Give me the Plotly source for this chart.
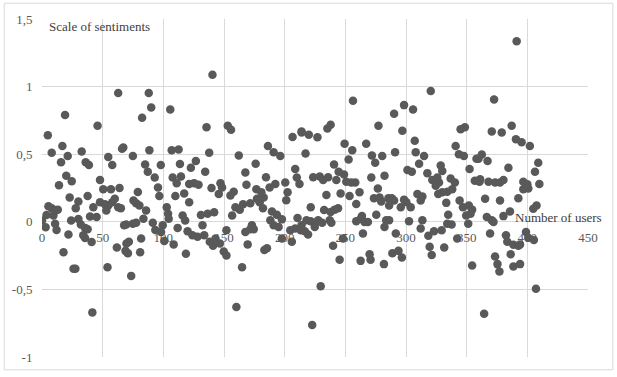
import plotly.graph_objects as go

# (user number, sentiment score), grouped by x range
seg1 = [(62.8,0.953),(19,0.79),(45.8,0.71),(4.8,0.64),(16.8,0.56),(8,0.51),(21.2,0.486),(15.7,0.44),(32.7,0.52),(36,0.44),(38.7,0.42),(54.6,0.48),(57.9,0.42),(66,0.54),(67,0.55),(20,0.34),(24.5,0.30),(14,0.27),(47.8,0.31),(50.5,0.24),(56.8,0.24),(63.9,0.25),(22.8,0.18),(37.6,0.19),(30,0.15),(27.8,0.10),(5.3,0.115),(8,0.10),(11.3,0.084),(13,0.09),(3.7,0.05),(9.4,0.047),(42.3,0.108),(47.8,0.145),(51.9,0.13),(54.6,0.12),(57.9,0.145),(60,0.17),(62.8,0.108),(65,0.10),(53,0.084),(39.6,0.04),(45,0.035),(0,0.01),(3,-0.04),(10.8,-0.014),(12,-0.06),(24,0.01),(30,0.02),(32,-0.02),(35.5,-0.045),(37.6,-0.055),(21.8,-0.094),(34,-0.1),(35.5,-0.12),(40.9,-0.15),(17.7,-0.225),(61.7,-0.19),(67.7,-0.026),(69.6,-0.16),(68.8,-0.215),(26,-0.347),(27.5,-0.347),(54,-0.337),(41.5,-0.67)]
seg2 = [(88,0.953),(90,0.846),(82.5,0.77),(105.7,0.83),(140.5,1.087),(135.6,0.70),(74.9,0.486),(88.5,0.53),(106.9,0.53),(112.6,0.534),(137.8,0.51),(85,0.424),(87.2,0.37),(97.9,0.42),(113.7,0.427),(126.8,0.45),(122.7,0.40),(134.5,0.37),(92.9,0.327),(107.7,0.327),(114.5,0.335),(111,0.286),(121.3,0.28),(125.4,0.286),(129,0.274),(139.7,0.25),(95.6,0.254),(96.7,0.19),(79,0.22),(109.9,0.19),(117.2,0.21),(121.3,0.145),(75.4,0.157),(77.6,0.137),(80.3,0.12),(85.8,0.084),(102.8,0.108),(103.9,0.06),(104.4,0.023),(115.9,0.047),(118,0.01),(131,0.05),(136.5,0.06),(141.9,0.07),(69.4,-0.02),(74.9,-0.014),(77.6,-0.007),(83.6,0.023),(91.3,-0.007),(93.4,-0.06),(99.5,-0.026),(98.1,-0.075),(111.8,-0.045),(120,-0.07),(124,-0.1),(128.2,-0.11),(132.3,-0.026),(133.7,-0.10),(138.3,-0.148),(141,-0.177),(100.8,-0.142),(108.5,-0.167),(81.7,-0.123),(71.6,-0.148),(70.8,-0.233),(80.9,-0.225),(118.6,-0.237),(73.5,-0.40)]
seg3 = [(153.1,0.71),(155.8,0.68),(186.2,0.56),(190.9,0.515),(196.4,0.486),(206.5,0.627),(214,0.66),(162.2,0.49),(176.1,0.43),(167.6,0.364),(184.6,0.33),(208.7,0.39),(210,0.327),(212.2,0.28),(168.5,0.274),(147.1,0.286),(148.4,0.254),(145.7,0.205),(176.7,0.24),(180.8,0.218),(182.7,0.18),(187.6,0.254),(192.3,0.28),(200.5,0.29),(202.4,0.218),(201.3,0.16),(155.3,0.194),(158,0.223),(177.2,0.17),(179.4,0.145),(159.4,0.108),(163,0.09),(156.7,0.047),(165.7,0.13),(171.7,0.137),(182.1,0.1),(189.5,0.077),(193.6,0.052),(197.7,0.018),(188.2,0.011),(190.9,-0.026),(195,-0.038),(210.6,0.028),(204.6,-0.062),(208.7,-0.05),(213.3,-0.062),(205.9,-0.148),(197.7,-0.123),(173,-0.026),(171.7,-0.055),(167.6,-0.075),(174.5,-0.055),(152,-0.062),(143,-0.123),(146.6,-0.16),(149.8,-0.22),(152,-0.25),(169.5,-0.167),(183.3,-0.208),(185.4,-0.196),(164.9,-0.337),(160.2,-0.63)]
seg4 = [(256.3,0.895),(277.3,0.71),(213.9,0.668),(219.9,0.644),(227,0.625),(235.2,0.69),(237.9,0.717),(249.4,0.578),(255.7,0.53),(267.2,0.578),(217.2,0.505),(252.7,0.46),(271.9,0.49),(274.6,0.437),(280.4,0.486),(240.7,0.424),(244.5,0.37),(248.9,0.35),(223.5,0.33),(228.9,0.335),(231.7,0.31),(235.8,0.33),(242.6,0.31),(250.8,0.296),(254.9,0.29),(258.2,0.29),(271.4,0.327),(282.3,0.34),(276.8,0.247),(234.4,0.198),(246.1,0.21),(253.5,0.19),(261.7,0.218),(273.6,0.174),(278.2,0.18),(279.6,0.15),(285.5,0.174),(259,0.132),(221.5,0.108),(232.5,0.088),(237.9,0.072),(241.2,0.09),(244,0.1),(275.5,0.052),(263.7,0.042),(213.9,-0.026),(218,0.011),(221.5,0.004),(224.8,-0.014),(227.6,0.011),(230.9,-0.007),(237.1,0.011),(238.5,-0.007),(216.6,-0.07),(219.3,-0.094),(224.8,-0.038),(259,0.004),(262.6,0.023),(265.8,-0.001),(268.6,-0.001),(283.7,0.011),(282.3,-0.038),(264.5,-0.087),(248.1,-0.123),(239.9,-0.177),(245.3,-0.28),(262.6,-0.289),(270,-0.24),(270.8,-0.28),(281.8,-0.313),(229.7,-0.476),(222.7,-0.763)]
seg5 = [(320.4,0.968),(298.4,0.863),(305.8,0.83),(290.2,0.80),(297,0.673),(345,0.685),(348.5,0.70),(307.2,0.60),(291,0.515),(308,0.515),(340.9,0.56),(343.6,0.50),(347.7,0.486),(314.9,0.486),(310.8,0.43),(358.1,0.466),(328.6,0.417),(329.9,0.376),(352.4,0.39),(301.2,0.383),(304.8,0.37),(317.6,0.36),(321.7,0.31),(325.8,0.327),(327.2,0.29),(324.5,0.267),(336.8,0.32),(340.3,0.29),(338.1,0.24),(334,0.223),(329.9,0.218),(326.6,0.205),(356.7,0.303),(288.3,0.174),(290.2,0.157),(286.1,0.12),(298.4,0.164),(300.3,0.145),(295.7,0.108),(303.9,0.108),(309.4,0.205),(313.5,0.188),(312.1,0.157),(333.2,0.14),(344.2,0.157),(346.9,0.108),(351.8,0.12),(354.5,0.09),(334.8,0.052),(349.6,0.047),(353.2,0.06),(334,-0.014),(337.6,-0.02),(302.5,0.004),(313.5,0.011),(351.3,-0.014),(291.6,-0.087),(286.1,0.011),(312.1,-0.05),(318.4,-0.104),(323.1,-0.07),(329.4,-0.062),(342.2,-0.123),(288.8,-0.233),(293.8,-0.215),(296.6,-0.264),(319.5,-0.184),(321.2,-0.245),(331.5,-0.19),(354.5,-0.323)]
seg6 = [(391.2,1.335),(372.6,0.905),(370.7,0.668),(378.9,0.66),(387.1,0.71),(390.6,0.61),(395.3,0.588),(402.1,0.56),(362.5,0.497),(359.8,0.466),(367.2,0.45),(409,0.437),(406.3,0.37),(409.9,0.28),(384.4,0.40),(361.1,0.315),(360.6,0.296),(368,0.296),(373.4,0.29),(377.5,0.29),(380.3,0.31),(396.7,0.296),(400,0.278),(396.7,0.24),(400.8,0.247),(365.2,0.17),(377.5,0.157),(392.6,0.174),(407.6,0.12),(404.9,0.096),(385.7,0.077),(380.3,0.042),(366.6,0.035),(370.7,0.011),(372.1,-0.001),(369.3,-0.087),(382.4,-0.1),(383.5,-0.148),(388.5,-0.17),(392.6,-0.177),(394,-0.167),(398.9,-0.075),(400.8,-0.118),(405.4,-0.135),(386.3,-0.24),(373.4,-0.257),(375.4,-0.313),(377,-0.367),(388.5,-0.33),(394,-0.313),(407.1,-0.496),(364.4,-0.68)]

x_ticks = [0, 50, 100, 150, 200, 250, 300, 350, 400, 450]
y_ticks = [-1, -0.5, 0, 0.5, 1, 1.5]
y_tick_labels = ["-1", "-0,5", "0", "0,5", "1", "1,5"]
y_title = "Scale of sentiments"
x_title = "Number of users"

points = seg1 + seg2 + seg3 + seg4 + seg5 + seg6
users = [p[0] for p in points]
scores = [p[1] for p in points]

FONT = "'Times New Roman', 'Liberation Serif', 'DejaVu Serif', serif"
GREY = "#595959"
GRID = "#d9d9d9"

fig = go.Figure()
fig.add_trace(go.Scatter(
    x=users, y=scores, mode="markers",
    marker=dict(size=8.5, color=GREY, line=dict(width=0)),
    hoverinfo="x+y", showlegend=False,
))

W, H = 617, 377
L, R, T, B = 39, 29, 19, 15
pw, ph = W - L - R, H - T - B
zero_pos = (0 - (-1)) / 2.5

fig.update_layout(
    width=W, height=H, autosize=False,
    margin=dict(l=L, r=R, t=T, b=B, pad=0),
    paper_bgcolor="white", plot_bgcolor="white",
    font=dict(family=FONT, size=13, color=GREY),
    xaxis=dict(
        range=[0, 450], tickvals=x_ticks, ticktext=[str(v) for v in x_ticks],
        showgrid=True, gridcolor=GRID, gridwidth=1, zeroline=False,
        showline=False, anchor="free", position=zero_pos,
        ticks="outside", ticklen=4, tickcolor="rgba(0,0,0,0)",
        tickfont=dict(family=FONT, size=13, color=GREY),
    ),
    yaxis=dict(
        range=[-1, 1.5], tickvals=y_ticks, ticktext=y_tick_labels,
        showgrid=True, gridcolor=GRID, gridwidth=1,
        zeroline=True, zerolinecolor=GRID, zerolinewidth=1,
        showline=False, ticks="outside", ticklen=6, tickcolor="rgba(0,0,0,0)",
        tickfont=dict(family=FONT, size=13, color=GREY),
    ),
    annotations=[
        dict(text=y_title, xref="x", yref="y",
             x=4.5, y=1.443, xanchor="left", yanchor="middle",
             showarrow=False, font=dict(family=FONT, size=13, color="#404040")),
        dict(text=x_title, xref="x", yref="y",
             x=388, y=0.03, xanchor="left", yanchor="middle",
             showarrow=False, font=dict(family=FONT, size=13, color="#404040")),
    ],
    shapes=[
        dict(type="rect", xref="paper", yref="paper",
             x0=(1 - L) / pw, x1=(613 - L) / pw,
             y0=(H - B - 375) / ph, y1=(H - B - 3) / ph,
             line=dict(color=GRID, width=1), fillcolor="rgba(0,0,0,0)", layer="below"),
    ],
)

fig.write_html("out.html")
